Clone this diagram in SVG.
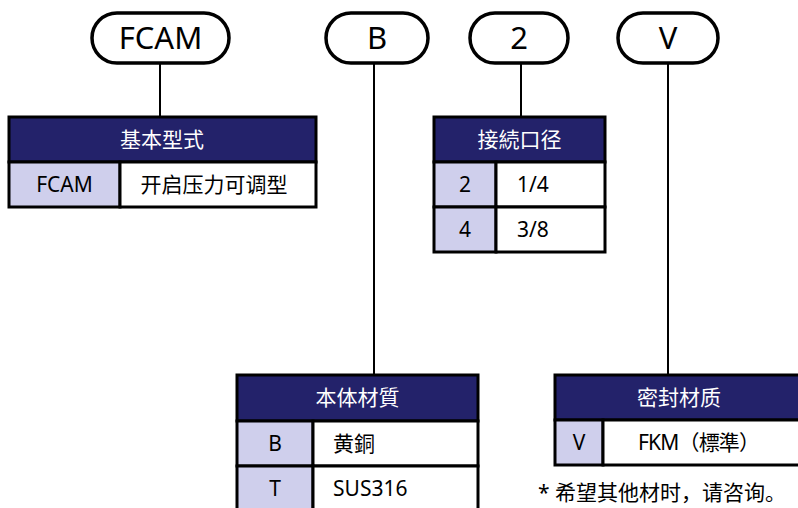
<svg xmlns="http://www.w3.org/2000/svg" width="798" height="508" viewBox="0 0 798 508">
<style>
text{font-family:"Noto Sans","Noto Sans CJK SC","Noto Sans CJK JP",sans-serif;fill:#000}
.pill{fill:#fff;stroke:#000;stroke-width:3.5}
.pt{font-size:31px;text-anchor:middle}
.hd{fill:#23226A;stroke:#000;stroke-width:3}
.ht{font-size:21px;fill:#fff;text-anchor:middle}
.k{fill:#CFCFEC;stroke:#000;stroke-width:3}
.v{fill:#fff;stroke:#000;stroke-width:3}
.ct{font-size:21px}
.m{text-anchor:middle}
.ln{stroke:#000;stroke-width:2;fill:none}
</style>
<g id="connectors">
<line class="ln" x1="160" y1="63" x2="160" y2="117"/>
<line class="ln" x1="374" y1="63" x2="374" y2="375"/>
<line class="ln" x1="521" y1="63" x2="521" y2="117"/>
<line class="ln" x1="668" y1="63" x2="668" y2="375"/>
</g>
<g id="pill-FCAM"><rect class="pill" x="92" y="13" width="137" height="50" rx="25"/><text class="pt" x="160.5" y="49">FCAM</text></g>
<g id="pill-B"><rect class="pill" x="326" y="13" width="102" height="50" rx="25"/><text class="pt" x="377" y="49">B</text></g>
<g id="pill-2"><rect class="pill" x="470" y="13" width="98" height="50" rx="25"/><text class="pt" x="519" y="49">2</text></g>
<g id="pill-V"><rect class="pill" x="618" y="13" width="100" height="50" rx="25"/><text class="pt" x="668" y="49">V</text></g>
<g id="table-basic">
<rect class="hd" x="9" y="117" width="307" height="45"/><text class="ht" x="162" y="147">基本型式</text>
<rect class="k" x="9" y="162" width="111" height="45"/><text class="ct m" x="64.5" y="192">FCAM</text>
<rect class="v" x="120" y="162" width="196" height="45"/><text class="ct m" x="214" y="192">开启压力可调型</text>
</g>
<g id="table-port">
<rect class="hd" x="434" y="117" width="171" height="45"/><text class="ht" x="519.5" y="147">接続口径</text>
<rect class="k" x="434" y="162" width="62" height="45"/><text class="ct m" x="465" y="192">2</text>
<rect class="v" x="496" y="162" width="109" height="45"/><text class="ct" x="517" y="192">1/4</text>
<rect class="k" x="434" y="207" width="62" height="45"/><text class="ct m" x="465" y="237">4</text>
<rect class="v" x="496" y="207" width="109" height="45"/><text class="ct" x="517" y="237">3/8</text>
</g>
<g id="table-body">
<rect class="hd" x="237" y="375" width="241" height="46"/><text class="ht" x="357.5" y="405">本体材質</text>
<rect class="k" x="237" y="421" width="76" height="45"/><text class="ct m" x="275" y="451">B</text>
<rect class="v" x="313" y="421" width="165" height="45"/><text class="ct" x="333" y="451">黄銅</text>
<rect class="k" x="237" y="466" width="76" height="45"/><text class="ct m" x="275" y="496">T</text>
<rect class="v" x="313" y="466" width="165" height="45"/><text class="ct" x="333" y="496">SUS316</text>
</g>
<g id="table-seal">
<rect class="hd" x="555" y="375" width="248" height="45"/><text class="ht" x="679" y="405">密封材质</text>
<rect class="k" x="555" y="420" width="48" height="45"/><text class="ct m" x="579" y="450">V</text>
<rect class="v" x="603" y="420" width="200" height="45"/><text class="ct" x="638" y="450" textLength="122" lengthAdjust="spacing">FKM（標準）</text>
</g>
<text class="ct" x="538" y="500">* 希望其他材时，请咨询。</text>
</svg>
